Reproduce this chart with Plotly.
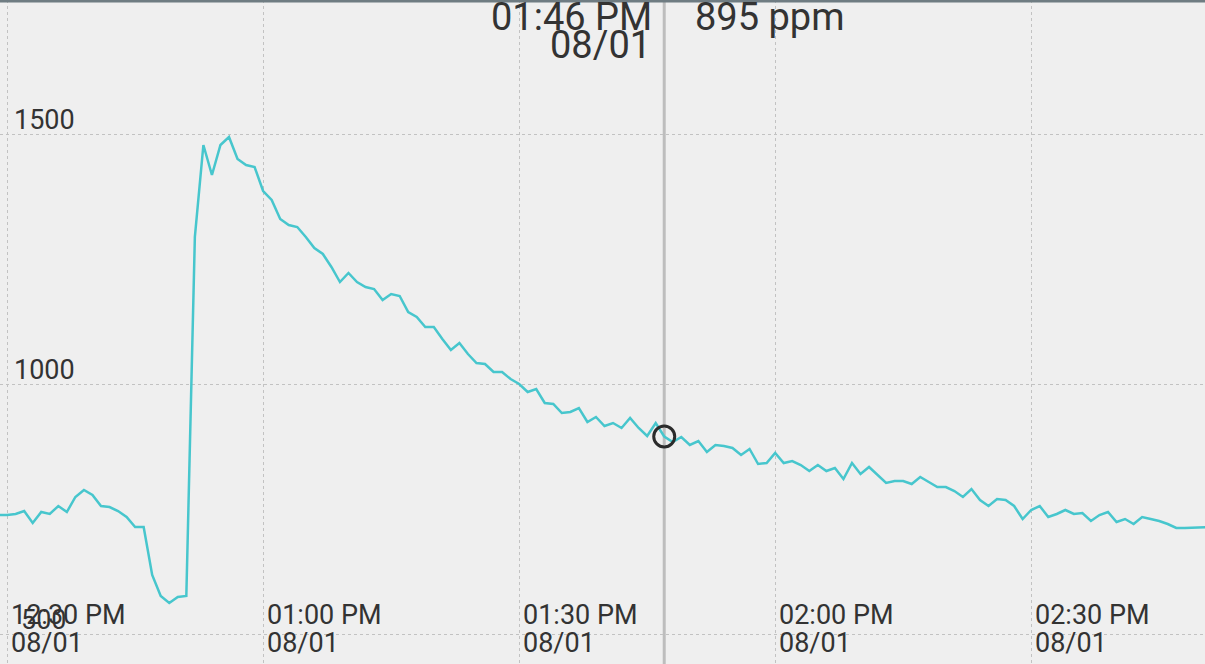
import pandas as pd
import plotly.graph_objects as go

# ---- data (CO2 readings, one per minute) ----
start_time = "2024-08-01 12:28:59"
co2_ppm = [
    738, 738, 740, 746, 722, 744, 740, 756, 744, 774,
    788, 778, 756, 754, 746, 734, 714, 714, 618, 576,
    562, 574, 576, 1294, 1478, 1418, 1478, 1494, 1450, 1438,
    1434, 1386, 1368, 1330, 1318, 1314, 1294, 1272, 1260, 1234,
    1204, 1222, 1204, 1194, 1190, 1168, 1180, 1176, 1144, 1134,
    1114, 1114, 1090, 1068, 1082, 1060, 1042, 1040, 1024, 1024,
    1010, 1000, 984, 990, 962, 960, 942, 944, 952, 924,
    934, 916, 922, 912, 932, 912, 896, 922, 895, 884,
    894, 878, 886, 864, 878, 876, 872, 858, 870, 840,
    842, 862, 842, 846, 838, 826, 838, 826, 832, 810,
    842, 820, 834, 818, 802, 806, 806, 800, 814, 804,
    794, 794, 786, 774, 790, 768, 756, 770, 768, 756,
    730, 748, 756, 734, 740, 748, 740, 742, 726, 738,
    744, 724, 730, 720, 734, 730, 726, 720, 712, 712,
    713, 714, 714,
]
times = pd.date_range(start=start_time, periods=len(co2_ppm), freq="1min")

x_ticks = ["2024-08-01 12:30", "2024-08-01 13:00", "2024-08-01 13:30",
           "2024-08-01 14:00", "2024-08-01 14:30"]
y_ticks = [500, 1000, 1500]
cursor_time = pd.Timestamp("2024-08-01 13:46:59")
x_range = ["2024-08-01 12:29:09", "2024-08-01 14:50:21"]
y_range = [440, 1768]

W, H = 1205, 664
FONT = "Roboto, 'Noto Sans', sans-serif"
TXT = "#333333"

cursor_idx = list(times).index(cursor_time)
cursor_val = co2_ppm[cursor_idx]

fig = go.Figure()
fig.add_trace(go.Scatter(
    x=times, y=co2_ppm, mode="lines",
    line=dict(color="#47c6cd", width=2.5),
    hoverinfo="skip", showlegend=False,
))
fig.add_trace(go.Scatter(
    x=[times[cursor_idx]], y=[cursor_val], mode="markers",
    marker=dict(symbol="circle", size=21, color="rgba(0,0,0,0)",
                line=dict(color="#2b2b2b", width=3)),
    hoverinfo="skip", showlegend=False,
))

annotations = []
for t in x_ticks:
    ts = pd.Timestamp(t)
    annotations.append(dict(
        x=ts, y=1 - 614.5 / H, xref="x", yref="paper",
        text=ts.strftime("%I:%M %p"), showarrow=False,
        xanchor="left", yanchor="middle", xshift=2,
        font=dict(family=FONT, size=27, color=TXT)))
    annotations.append(dict(
        x=ts, y=1 - 643 / H, xref="x", yref="paper",
        text=ts.strftime("%m/%d"), showarrow=False,
        xanchor="left", yanchor="middle", xshift=2,
        font=dict(family=FONT, size=27, color=TXT)))
for v in y_ticks:
    annotations.append(dict(
        x=44 / W, y=v, xref="paper", yref="y",
        text=str(v), showarrow=False,
        xanchor="center", yanchor="middle", yshift=14,
        font=dict(family=FONT, size=27, color=TXT)))

annotations.append(dict(
    x=cursor_time, y=1 - 17.5 / H, xref="x", yref="paper",
    text=cursor_time.strftime("%I:%M %p"), showarrow=False,
    xanchor="right", yanchor="middle", xshift=-10,
    font=dict(family=FONT, size=38, color=TXT)))
annotations.append(dict(
    x=cursor_time, y=1 - 44.5 / H, xref="x", yref="paper",
    text=cursor_time.strftime("%m/%d"), showarrow=False,
    xanchor="right", yanchor="middle", xshift=-11,
    font=dict(family=FONT, size=38, color=TXT)))
annotations.append(dict(
    x=cursor_time, y=1 - 17.5 / H, xref="x", yref="paper",
    text=f"{cursor_val} ppm", showarrow=False,
    xanchor="left", yanchor="middle", xshift=29,
    font=dict(family=FONT, size=38, color=TXT)))

shapes = [
    dict(type="line", xref="x", yref="paper",
         x0=cursor_time, x1=cursor_time, y0=0, y1=1,
         line=dict(color="#bdbdbd", width=3), layer="below"),
    dict(type="rect", xref="paper", yref="paper",
         x0=0, x1=1, y0=1 - 2.5 / H, y1=1,
         fillcolor="#6f7c82", line=dict(width=0)),
]

grid = dict(showgrid=True, gridcolor="#c2c2c2", gridwidth=1, griddash="3px,3px",
            zeroline=False, showline=False, showticklabels=False, ticks="")

fig.update_layout(
    width=W, height=H,
    margin=dict(l=0, r=0, t=0, b=0),
    paper_bgcolor="#efefef", plot_bgcolor="#efefef",
    xaxis=dict(range=x_range, tickvals=x_ticks, **grid),
    yaxis=dict(range=y_range, tickvals=y_ticks, **grid),
    annotations=annotations, shapes=shapes,
    showlegend=False,
)

fig.write_html(
    "out.html",
    config={"displayModeBar": False},
    post_script="document.body.style.margin='0';document.body.style.padding='0';"
                "document.body.style.overflow='hidden';",
)
